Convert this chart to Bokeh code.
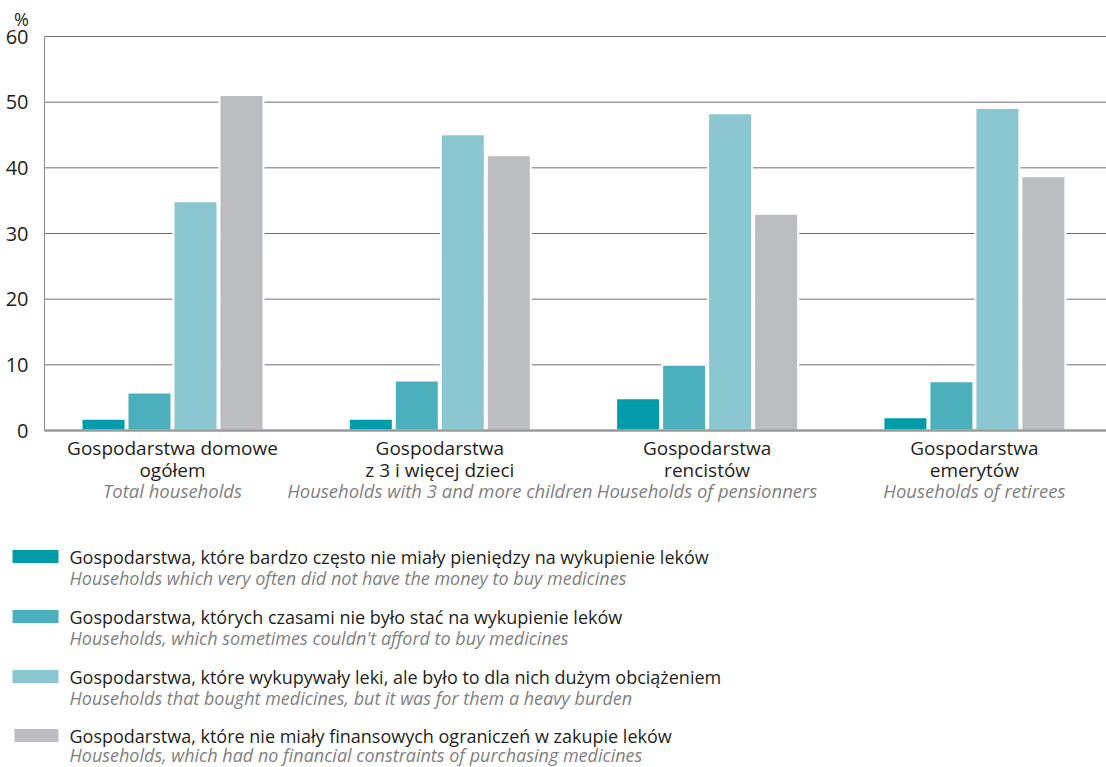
from bokeh.plotting import figure
from bokeh.models import Range1d, LinearAxis, FixedTicker, ColumnDataSource
from bokeh.core.properties import value
from bokeh.embed import file_html
from bokeh.resources import INLINE

# ---------------- data ----------------
cat_line1 = ["Gospodarstwa domowe", "Gospodarstwa", "Gospodarstwa", "Gospodarstwa"]
cat_line2 = ["ogółem", "z 3 i więcej dzieci", "rencistów", "emerytów"]
cat_en = ["Total households", "Households with 3 and more children",
          "Households of pensionners", "Households of retirees"]

series_pl = [
    "Gospodarstwa, które bardzo często nie miały pieniędzy na wykupienie leków",
    "Gospodarstwa, których czasami nie było stać na wykupienie leków",
    "Gospodarstwa, które wykupywały leki, ale było to dla nich dużym obciążeniem",
    "Gospodarstwa, które nie miały finansowych ograniczeń w zakupie leków",
]
series_en = [
    "Households which very often did not have the money to buy medicines",
    "Households, which sometimes couldn't afford to buy medicines",
    "Households that bought medicines, but it was for them a heavy burden",
    "Households, which had no financial constraints of purchasing medicines",
]
s1 = [1.8, 1.8, 4.9, 2.0]
s2 = [5.8, 7.6, 10.0, 7.5]
s3 = [34.9, 45.1, 48.3, 49.1]
s4 = [51.1, 41.9, 33.0, 38.7]
y_ticks = [0, 10, 20, 30, 40, 50, 60]

colors = ["#009ca9", "#4bb0bb", "#8bc7d0", "#bcbdc0"]
FONT = "Open Sans"
DARK = "#231f20"
GREY_T = "#7f7f7f"

# ---------------- geometry helpers (page px -> data) ----------------
PX = 267.3               # px per category unit
PY = 394 / 60.0          # px per percent
W, H = 1106, 767
OX, OY = 0, 0            # page position of the figure

def xd(page_x):
    return (page_x - 172) / PX

def yd(page_y):
    return 60 - (page_y - 36) / PY

p = figure(width=W, height=H, output_backend="svg", toolbar_location=None,
           x_range=Range1d(xd(OX), xd(OX + W)), y_range=Range1d(yd(OY + H), yd(OY)),
           x_axis_location=None, y_axis_location=None,
           min_border_left=0, min_border_right=0, min_border_top=0, min_border_bottom=0)
p.outline_line_color = None
p.grid.grid_line_color = None

# y axis drawn at the left edge of the plotting area
yax = LinearAxis(fixed_location=xd(44), ticker=FixedTicker(ticks=y_ticks), bounds=(0, 60))
yax.axis_line_color = "#8a8a8a"
yax.axis_line_width = 1
yax.major_tick_line_color = None
yax.minor_tick_line_color = None
yax.major_label_text_font = FONT
yax.major_label_text_font_size = "20px"
yax.major_label_text_color = DARK
yax.major_label_standoff = 10
p.add_layout(yax, "left")

# horizontal grid lines
grid_y = y_ticks[1:]
p.segment(x0=[xd(44)] * len(grid_y), x1=[xd(1106)] * len(grid_y), y0=grid_y, y1=grid_y,
          line_color="#6d6e71", line_width=1)

xs = [0, 1, 2, 3]
bw = 44 / PX
step = 46 / PX
for k, (vals, c) in enumerate(zip([s1, s2, s3, s4], colors)):
    off = (k - 1.5) * step
    src = ColumnDataSource(dict(x=[x + off for x in xs], top=vals))
    p.vbar(x="x", top="top", bottom=0, width=bw, source=src,
           fill_color=c, line_color="white", line_width=2)

# baseline
p.segment(x0=[xd(44)], x1=[xd(1106)], y0=[0], y1=[0], line_color="#9a9a9a", line_width=2.5)

# category labels
p.text(x=xs, y=[yd(447)] * 4, text=cat_line1, text_font=value(FONT),
       text_font_size="19px", text_color=DARK, text_align="center", text_baseline="middle")
p.text(x=xs, y=[yd(469)] * 4, text=cat_line2, text_font=value(FONT),
       text_font_size="19px", text_color=DARK, text_align="center", text_baseline="middle")
p.text(x=xs, y=[yd(490)] * 4, text=cat_en, text_font=value(FONT),
       text_font_size="18.5px", text_font_style="italic", text_color=GREY_T,
       text_align="center", text_baseline="middle")

# unit
p.text(x=[xd(21)], y=[yd(18)], text=["%"], text_font=value(FONT),
       text_font_size="18px", text_color=DARK, text_align="center", text_baseline="middle")

# legend
row_y = [556, 616, 676, 735]
en_y = [577, 637, 697, 754]
p.rect(x=[xd(35), xd(35), xd(35), xd(36)], y=[yd(v) for v in row_y],
       width=[46, 46, 46, 44], height=13, width_units="screen", height_units="screen",
       fill_color=colors, line_color=None)
p.text(x=[xd(69)] * 4, y=[yd(v) for v in row_y], text=series_pl, text_font=value(FONT),
       text_font_size="18px", text_color=DARK, text_baseline="middle")
p.text(x=[xd(69)] * 4, y=[yd(v) for v in en_y], text=series_en, text_font=value(FONT),
       text_font_size="18px", text_font_style="italic", text_color=GREY_T,
       text_baseline="middle")

open("out.html", "w").write(file_html(p, INLINE))
